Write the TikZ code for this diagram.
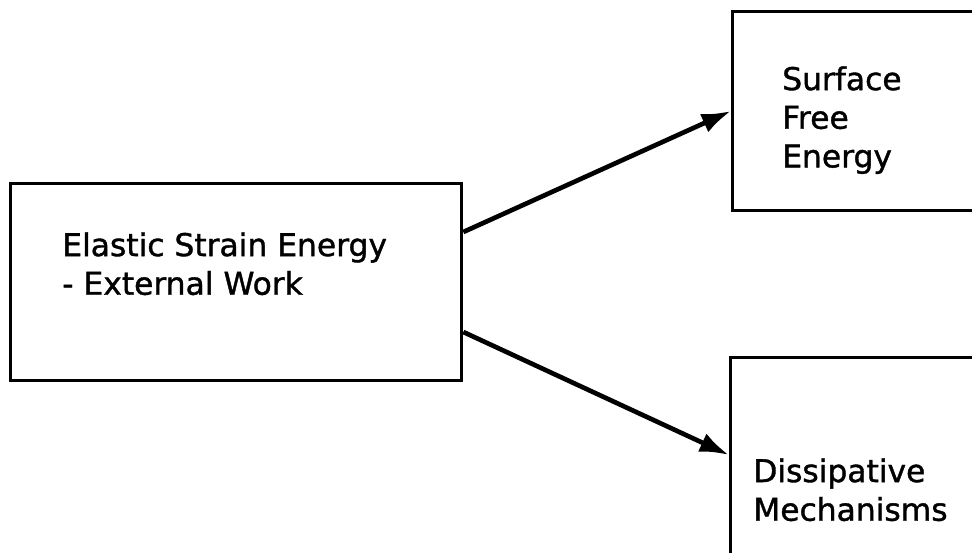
\documentclass[tikz,border=0pt]{standalone}
\usepackage{fontspec}
\setmainfont[FakeBold=1.2]{DejaVu Sans}
\usepackage{tikz}
\usetikzlibrary{arrows.meta,positioning,calc}
\tikzset{
  flowbox/.style={draw=black,line width=2.5pt,rectangle,inner sep=0pt},
  flowtext/.style={anchor=north west,inner sep=0pt,align=left,font=\fontsize{23.5}{29}\selectfont},
  flowarrow/.style={-{Latex[length=22pt,width=15pt]},line width=3.5pt,black}
}
\begin{document}
\begin{tikzpicture}[x=0.75pt,y=-0.75pt]
\useasboundingbox (0,0) rectangle (972,553);
\node[flowbox,minimum width=451*0.75pt,minimum height=197*0.75pt,anchor=north west] (elastic) at (9,182) {};
\node[flowbox,minimum width=300*0.75pt,minimum height=199*0.75pt,anchor=north west] (surface) at (731,10) {};
\node[flowbox,minimum width=300*0.75pt,minimum height=260*0.75pt,anchor=north west] (dissip) at (729,356) {};
\node[flowtext] (elastictxt) at ($(elastic.north west)+(53,50)$) {Elastic Strain Energy\\- External Work};
\node[flowtext] (surfacetxt) at ($(surface.north west)+(51,56)$) {Surface\\Free\\Energy};
\node[flowtext] (dissiptxt) at ($(dissip.north west)+(24,102)$) {Dissipative\\Mechanisms};
\draw[flowarrow] ($(elastic.north east)+(0,50)$)--($(surface.north west)+(0,101)$);
\draw[flowarrow] ($(elastic.north east)+(0,150)$)--($(dissip.north west)+(0,99)$);
\end{tikzpicture}
\end{document}
